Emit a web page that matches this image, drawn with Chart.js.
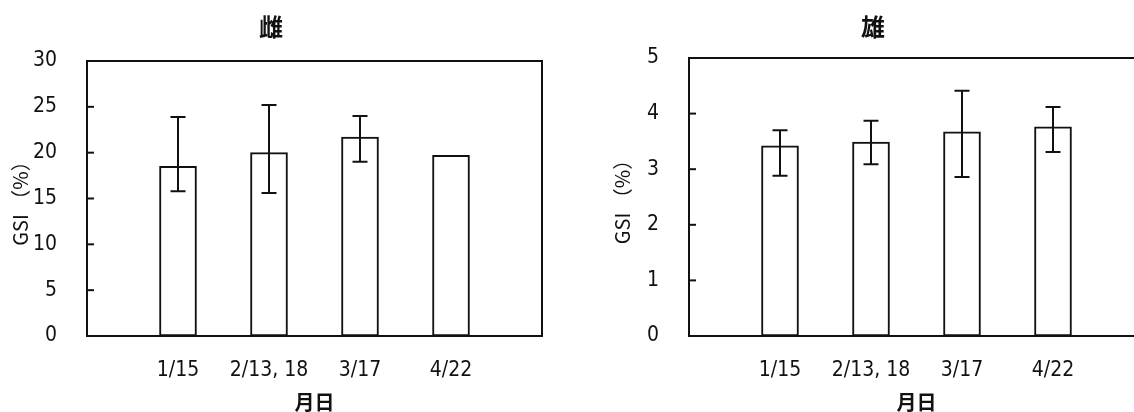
<!DOCTYPE html>
<html>
<head>
<meta charset="utf-8">
<script src="https://cdn.jsdelivr.net/npm/chart.js@4.4.1/dist/chart.umd.min.js"></script>
<style>
  html, body { margin: 0; padding: 0; background: #fff; overflow: hidden; }
  .box { position: absolute; top: 0; width: 589px; height: 412px; }
  #femaleBox { left: 0; }
  #maleBox { left: 602px; }
</style>
</head>
<body>
<div class="box" id="femaleBox"><canvas id="female"></canvas></div>
<div class="box" id="maleBox"><canvas id="male"></canvas></div>
<script>
// categories (blank slots at both ends give the empty space on each side)
var dates = ['', '1/15', '2/13, 18', '3/17', '4/22', ''];

// 雌 GSI (%)
var femaleMean  = [null, 18.5, 20.0, 21.7, 19.7, null];
var femaleUpper = [null, 23.9, 25.2, 24.0, null, null];
var femaleLower = [null, 15.8, 15.6, 19.0, null, null];
var femaleTicks = { min: 0, max: 30, step: 5 };

// 雄 GSI (%)
var maleMean  = [null, 3.42, 3.49, 3.67, 3.76, null];
var maleUpper = [null, 3.70, 3.87, 4.41, 4.12, null];
var maleLower = [null, 2.88, 3.09, 2.86, 3.31, null];
var maleTicks = { min: 0, max: 5, step: 1 };

var ink = '#111';
var numFont = '"DejaVu Sans Condensed", "Liberation Sans Narrow", "DejaVu Sans", sans-serif';
var jpFont = '"Noto Sans CJK JP"';

// frame, inward y ticks and error bars
var framePlugin = {
    id: 'frame',
    afterDatasetsDraw: function(chart, args, opts) {
        var ctx = chart.ctx;
        var a = chart.chartArea;
        var x = chart.scales.x, y = chart.scales.y;
        ctx.save();
        ctx.strokeStyle = ink;
        ctx.lineWidth = 2;
        ctx.strokeRect(a.left, a.top, a.right - a.left, a.bottom - a.top);

        y.ticks.forEach(function(t) {
            var py = y.getPixelForValue(t.value);
            ctx.beginPath();
            ctx.moveTo(a.left, py);
            ctx.lineTo(a.left + 7, py);
            ctx.stroke();
        });

        var upper = opts.upper, lower = opts.lower;
        for (var i = 0; i < upper.length; i++) {
            if (upper[i] == null) continue;
            var px = x.getPixelForValue(i);
            var yt = y.getPixelForValue(upper[i]);
            var yb = y.getPixelForValue(lower[i]);
            ctx.beginPath();
            ctx.moveTo(px, yt); ctx.lineTo(px, yb);
            ctx.moveTo(px - 7.5, yt); ctx.lineTo(px + 7.5, yt);
            ctx.moveTo(px - 7.5, yb); ctx.lineTo(px + 7.5, yb);
            ctx.stroke();
        }
        ctx.restore();
    }
};

function makeChart(id, title, mean, upper, lower, range, titlePad) {
    return new Chart(document.getElementById(id), {
        type: 'bar',
        data: {
            labels: dates,
            datasets: [{
                data: mean,
                backgroundColor: '#fff',
                borderColor: ink,
                borderWidth: 2,
                borderSkipped: false,
                barThickness: 37
            }]
        },
        options: {
            responsive: true,
            maintainAspectRatio: false,
            animation: false,
            layout: { padding: { left: 0, right: 47, top: 0, bottom: 0 } },
            plugins: {
                legend: { display: false },
                tooltip: { enabled: false },
                title: {
                    display: true,
                    text: title,
                    color: ink,
                    font: { family: jpFont, size: 24, weight: 'bold', lineHeight: 1.2 },
                    padding: { top: 12.6, bottom: titlePad }
                },
                frame: { upper: upper, lower: lower }
            },
            scales: {
                x: {
                    offset: false,
                    grid: { display: false, drawTicks: false },
                    border: { display: false },
                    ticks: {
                        color: ink,
                        padding: 22,
                        maxRotation: 0,
                        autoSkip: false,
                        font: { family: numFont, size: 21, lineHeight: 1.2 }
                    },
                    title: {
                        display: true,
                        text: '月日',
                        color: ink,
                        padding: { top: 0, bottom: 0 },
                        font: { family: jpFont, size: 20, weight: 'bold', lineHeight: 1 }
                    },
                    afterFit: function(s) { s.height = 76; }
                },
                y: {
                    min: range.min,
                    max: range.max,
                    grid: { display: false, drawTicks: false },
                    border: { display: false },
                    ticks: {
                        stepSize: range.step,
                        color: ink,
                        padding: 30,
                        font: { family: numFont, size: 21 }
                    },
                    title: {
                        display: true,
                        text: 'GSI （%）',
                        color: ink,
                        padding: { top: 8, bottom: 4 },
                        font: { family: jpFont, size: 20, lineHeight: 1.2 }
                    },
                    afterFit: function(s) { s.width = 87; }
                }
            }
        },
        plugins: [framePlugin]
    });
}

makeChart('female', '雌', femaleMean, femaleUpper, femaleLower, femaleTicks, 19.6);
makeChart('male', '雄', maleMean, maleUpper, maleLower, maleTicks, 16.6);
</script>
</body>
</html>
